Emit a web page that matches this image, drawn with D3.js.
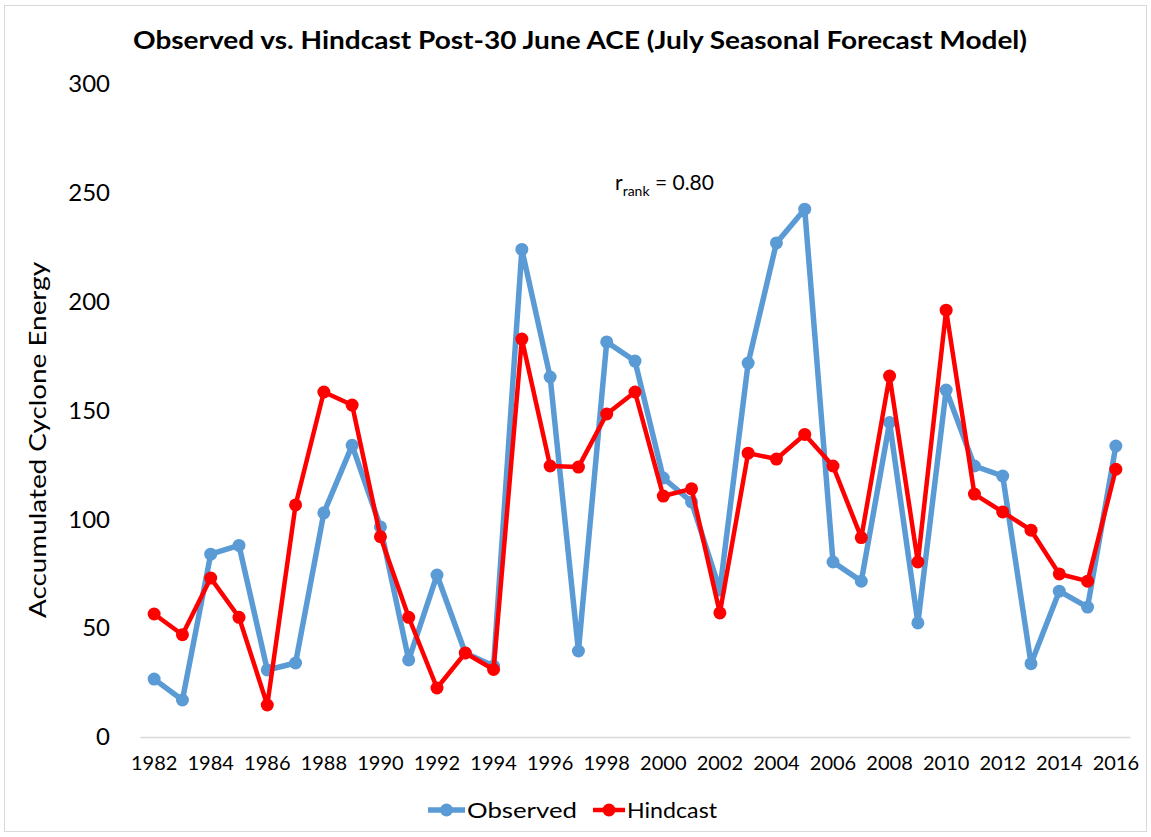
<!DOCTYPE html>
<html>
<head>
<meta charset="utf-8">
<script src="https://cdn.jsdelivr.net/npm/d3@7"></script>
<style>
  html, body { margin: 0; padding: 0; background: #fff; }
  svg text { font-family: Lato, "Open Sans", sans-serif; fill: #000; }
</style>
</head>
<body>
<svg id="chart" width="1151" height="837"></svg>
<script>
const years = [1982,1983,1984,1985,1986,1987,1988,1989,1990,1991,1992,1993,1994,1995,1996,1997,1998,1999,2000,2001,2002,2003,2004,2005,2006,2007,2008,2009,2010,2011,2012,2013,2014,2015,2016];
const observed = [26.6,17,84,88,30.8,34,103,134,96.5,35.4,74.4,38.6,32.6,224,165.4,39.5,181.5,172.7,119,108,67.5,171.8,227,242.5,80.4,71.6,144.5,52.4,159.4,124.5,119.9,33.7,67,59.7,133.7];
const hindcast = [56.5,47,73,55,14.7,106.6,158.5,152.5,92,55,22.5,38.6,31,182.8,124.5,124,148.4,158.5,110.7,114,57,130.4,127.7,139,124.5,91.6,165.8,80.4,196.1,111.6,103.4,95,74.9,71.6,123];
const yTicks = [0,50,100,150,200,250,300];
const xTickLabels = [1982,1984,1986,1988,1990,1992,1994,1996,1998,2000,2002,2004,2006,2008,2010,2012,2014,2016];
const seriesNames = ["Observed","Hindcast"];
const seriesColors = ["#5b9bd5","#ff0000"];

const svg = d3.select("#chart");

// chart border
svg.append("rect").attr("x",4.5).attr("y",5.5).attr("width",1142).attr("height",826)
  .attr("fill","#fff").attr("stroke","#d9d9d9").attr("stroke-width",1);

const x = d3.scaleBand().domain(years).range([140,1130]).padding(0);
const xc = d => x(d) + x.bandwidth()/2;
const y = d3.scaleLinear().domain([0,300]).range([737,84]);

// title
svg.append("text").attr("x",580).attr("y",49).attr("text-anchor","middle")
  .attr("font-size",24).attr("font-weight","bold")
  .attr("textLength",894).attr("lengthAdjust","spacingAndGlyphs")
  .text("Observed vs. Hindcast Post-30 June ACE (July Seasonal Forecast Model)");

// y axis
const yAxis = svg.append("g").attr("transform","translate(140,0)")
  .call(d3.axisLeft(y).tickValues(yTicks).tickSize(0).tickPadding(30).tickFormat(d3.format("d")));
yAxis.select(".domain").remove();
yAxis.selectAll("text").attr("font-size",24).style("font-family","Lato, 'Open Sans', sans-serif").attr("fill","#000");

// x axis
const xAxis = svg.append("g").attr("transform","translate(0,737)")
  .call(d3.axisBottom(x).tickValues(xTickLabels).tickSize(0).tickPadding(19));
xAxis.select(".domain").attr("stroke","#d9d9d9").attr("stroke-width",1.5);
xAxis.selectAll("text").attr("font-size",20).style("font-family","Lato, 'Open Sans', sans-serif").attr("fill","#000");

// y axis title
svg.append("text").attr("transform","translate(46,440) rotate(-90)").attr("text-anchor","middle")
  .attr("font-size",24).attr("textLength",356).attr("lengthAdjust","spacingAndGlyphs")
  .text("Accumulated Cyclone Energy");

// series
const series = [observed, hindcast];
const widths = [5.5, 4.5];
const radii = [6.5, 6.5];
series.forEach((vals, i) => {
  const data = years.map((yr, k) => ({yr, v: vals[k]}));
  const line = d3.line().x(d => xc(d.yr)).y(d => y(d.v));
  svg.append("path").datum(data).attr("d", line).attr("fill","none")
    .attr("stroke", seriesColors[i]).attr("stroke-width", widths[i]).attr("stroke-linejoin","round");
  svg.append("g").selectAll("circle").data(data).join("circle")
    .attr("cx", d => xc(d.yr)).attr("cy", d => y(d.v)).attr("r", radii[i])
    .attr("fill", seriesColors[i]);
});

// annotation
const ann = svg.append("text").attr("x",615).attr("y",190).attr("font-size",21);
ann.append("tspan").text("r");
ann.append("tspan").attr("font-size",14).attr("dy",6).text("rank");
ann.append("tspan").attr("dy",-6).text(" = 0.80");

// legend
const legend = [
  {name: seriesNames[0], color: seriesColors[0], x1: 428, x2: 465, tx: 467, tl: 110, w: 5.5},
  {name: seriesNames[1], color: seriesColors[1], x1: 593, x2: 625, tx: 627, tl: 90, w: 4.5}
];
legend.forEach(l => {
  svg.append("line").attr("x1",l.x1).attr("x2",l.x2).attr("y1",810).attr("y2",810)
    .attr("stroke",l.color).attr("stroke-width",l.w);
  svg.append("circle").attr("cx",(l.x1+l.x2)/2).attr("cy",810).attr("r",6.5).attr("fill",l.color);
  svg.append("text").attr("x",l.tx).attr("y",818).attr("font-size",21)
    .attr("textLength",l.tl).attr("lengthAdjust","spacingAndGlyphs").text(l.name);
});
</script>
</body>
</html>
